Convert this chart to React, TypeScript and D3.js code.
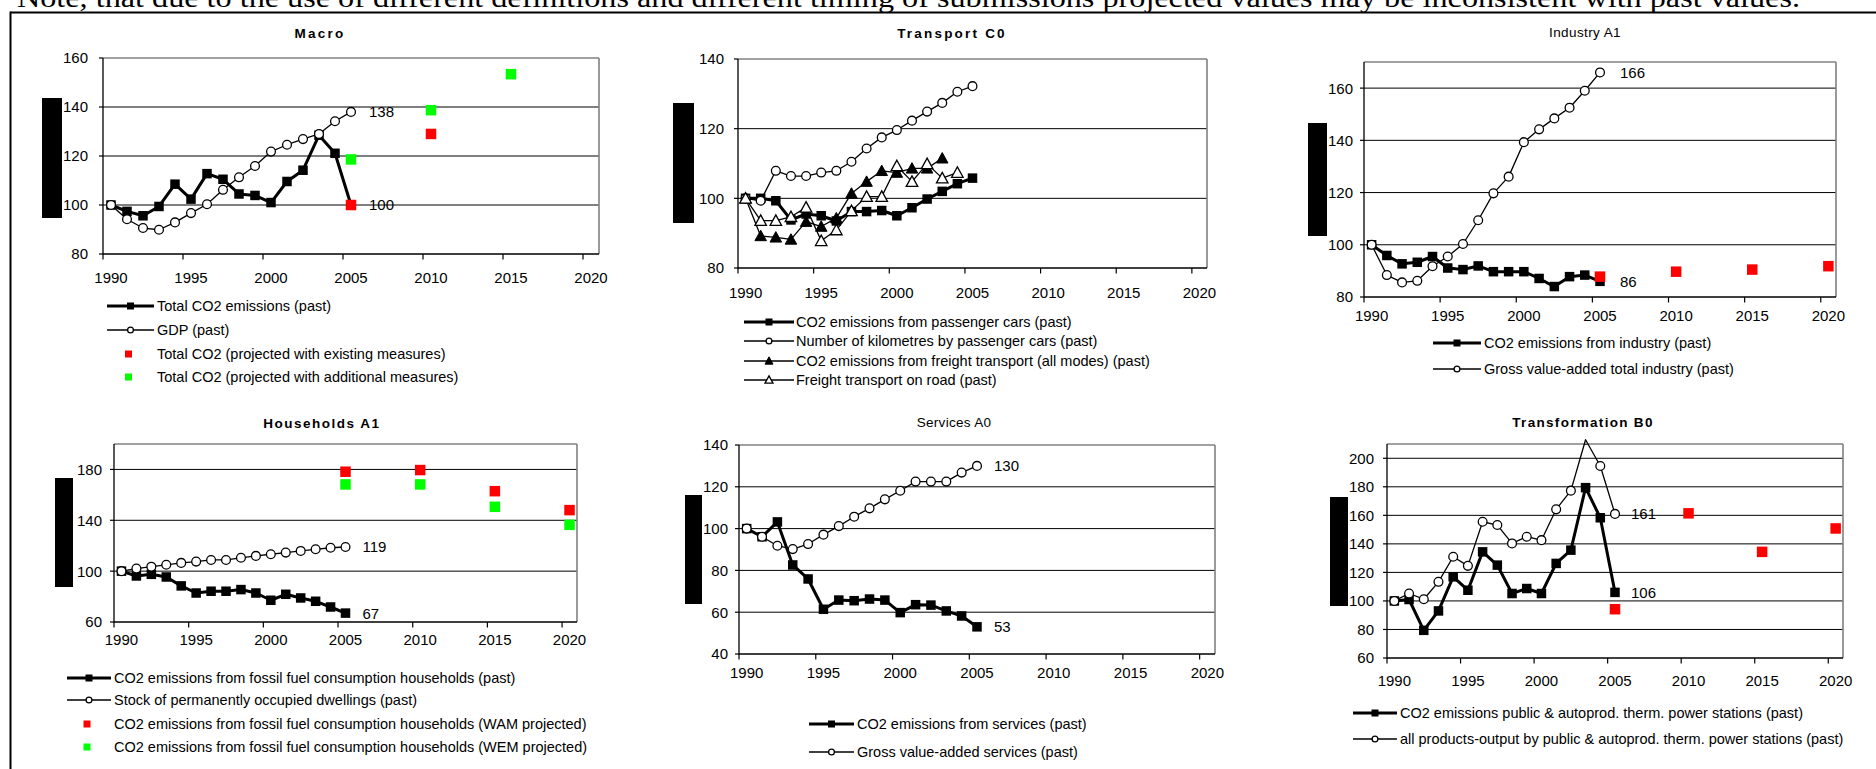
import React from 'react';
import * as d3 from 'd3';

// ---------- DATA ----------
const pastYears = [1990, 1991, 1992, 1993, 1994, 1995, 1996, 1997, 1998, 1999, 2000, 2001, 2002, 2003, 2004, 2005];
const projYears = [2005, 2010, 2015, 2020];
const xTickYears = [1990, 1995, 2000, 2005, 2010, 2015, 2020];

// Macro
const macroCO2 = [100, 97.4, 95.6, 99.4, 108.5, 102.4, 112.8, 110.5, 104.5, 103.9, 101, 109.6, 114.2, 128.5, 121.1, 100];
const macroGDP = [100, 94.2, 90.6, 89.9, 92.9, 96.7, 100.3, 106.2, 111.3, 115.9, 121.8, 124.6, 126.9, 129, 134.2, 138];
const macroExistingYears = [2005, 2010];
const macroExisting = [100, 129];
const macroAdditionalYears = [2005, 2010, 2015];
const macroAdditional = [118.6, 138.7, 153.4];

// Transport
const transportCars = [100, 100, 99.3, 93.8, 95.5, 95, 93.5, 96.2, 96.2, 96.5, 95, 97.3, 99.8, 102, 104.2, 105.8];
const transportKm = [100, 99.3, 107.9, 106.4, 106.4, 107.4, 107.9, 110.5, 114.3, 117.5, 119.6, 122.3, 124.9, 127.4, 130.6, 132.2];
const freightYears = [1990, 1991, 1992, 1993, 1994, 1995, 1996, 1997, 1998, 1999, 2000, 2001, 2002, 2003];
const freightCO2 = [100, 89.2, 88.8, 88.2, 93.3, 91.9, 94.3, 101.4, 104.8, 107.9, 107.4, 108.6, 108.6, 111.5];
const roadYears = [1990, 1991, 1992, 1993, 1994, 1995, 1996, 1997, 1998, 1999, 2000, 2001, 2002, 2003, 2004];
const roadFreight = [100, 93.6, 93.6, 94.7, 97.4, 87.8, 90.9, 96.4, 100.5, 100.5, 109.3, 104.8, 109.9, 105.8, 107.4];

// Industry
const industryCO2 = [100, 95.9, 92.7, 93.3, 95.5, 91.1, 90.5, 91.9, 89.7, 89.7, 89.7, 87.1, 84, 87.8, 88.4, 86];
const industryGVA = [100, 88.4, 85.6, 86.2, 91.8, 95.5, 100.3, 109.4, 119.7, 126.1, 139.3, 144.2, 148.4, 152.5, 159, 166];
const industryProj = [87.8, 89.7, 90.5, 91.8];

// Households
const householdsCO2 = [100, 96.2, 97.5, 95.4, 88.4, 82.8, 84.2, 84.2, 85.5, 82.8, 77.1, 81.8, 78.9, 76.3, 71.8, 67];
const householdsDwellings = [100, 102, 103.5, 105, 106.5, 107.5, 108.8, 108.8, 110.5, 112, 113.3, 114.6, 115.9, 117.2, 118.4, 119];
const householdsWAM = [178.2, 179.5, 162.9, 148];
const householdsWEM = [168.2, 168.2, 150.6, 136.4];

// Services
const servicesCO2 = [100, 96.1, 103.2, 82.6, 75.9, 61.4, 65.8, 65.5, 66.3, 65.8, 59.8, 63.6, 63.4, 60.6, 58.2, 53];
const servicesGVA = [100, 96.1, 91.8, 90.2, 92.6, 97.1, 101.2, 105.7, 109.7, 114, 118.1, 122.5, 122.5, 122.5, 126.8, 130];

// Transformation
const transfCO2 = [100, 101, 79.4, 93, 116.9, 107.5, 134.4, 125.1, 105.2, 108.7, 105.2, 126.3, 135.6, 179.4, 158.3, 106];
const transfOutput = [100, 105.2, 101.2, 113.4, 131, 124.6, 155.5, 153.2, 140.3, 145, 142.6, 164.2, 177.3, 213, 194.6, 161];
const transfProj = [94.2, 161.4, 134.4, 150.8];

const noteText = 'Note, that due to the use of different definitions and different timing of submissions projected values may be inconsistent with past values.';

// ---------- STYLE / LAYOUT ----------
const FONT = "'Liberation Sans', Arial, Helvetica, sans-serif";
const RED = '#FF0000';
const GREEN = '#00FF00';

type Kind = 'sq' | 'circ' | 'triF' | 'triO' | 'red' | 'green';
type Series = { name: string; years: number[]; values: number[]; kind: Kind; legend: boolean; endLabel?: boolean };
type Panel = {
  title: string; bold: boolean; titleX: number; titleY: number; ls: number;
  x0: number; x1: number; y0: number; y1: number;
  yDomain: [number, number]; yTicks: number[];
  ylabGap: number; xlabOff: number;
  bar: [number, number, number, number];
  legend: { x1: number; x2: number; tx: number; ys: number[] };
  labelDx: number;
  series: Series[];
};

const panels: Panel[] = [
  {
    title: 'Macro', bold: true, titleX: 320, titleY: 38, ls: 2.2,
    x0: 103, x1: 599, y0: 58, y1: 254, yDomain: [80, 160], yTicks: [80, 100, 120, 140, 160],
    ylabGap: 15, xlabOff: 29, bar: [42, 98, 20, 120],
    legend: { x1: 107, x2: 154, tx: 157, ys: [306, 330, 354, 377] }, labelDx: 18,
    series: [
      { name: 'Total CO2 emissions (past)', years: pastYears, values: macroCO2, kind: 'sq', legend: true, endLabel: true },
      { name: 'GDP (past)', years: pastYears, values: macroGDP, kind: 'circ', legend: true, endLabel: true },
      { name: 'Total CO2 (projected with existing measures)', years: macroExistingYears, values: macroExisting, kind: 'red', legend: true },
      { name: 'Total CO2 (projected with additional measures)', years: macroAdditionalYears, values: macroAdditional, kind: 'green', legend: true },
    ],
  },
  {
    title: 'Transport C0', bold: true, titleX: 952, titleY: 38, ls: 2.2,
    x0: 738, x1: 1207, y0: 59, y1: 268, yDomain: [80, 140], yTicks: [80, 100, 120, 140],
    ylabGap: 14, xlabOff: 30, bar: [673, 103, 21, 120],
    legend: { x1: 744, x2: 794, tx: 796, ys: [322, 341, 361, 380] }, labelDx: 18,
    series: [
      { name: 'CO2 emissions from passenger cars (past)', years: pastYears, values: transportCars, kind: 'sq', legend: true },
      { name: 'Number of kilometres by passenger cars (past)', years: pastYears, values: transportKm, kind: 'circ', legend: true },
      { name: 'CO2 emissions from freight transport (all modes) (past)', years: freightYears, values: freightCO2, kind: 'triF', legend: true },
      { name: 'Freight transport on road (past)', years: roadYears, values: roadFreight, kind: 'triO', legend: true },
    ],
  },
  {
    title: 'Industry A1', bold: false, titleX: 1585, titleY: 37, ls: 0.4,
    x0: 1364, x1: 1836, y0: 62, y1: 297, yDomain: [80, 170], yTicks: [80, 100, 120, 140, 160],
    ylabGap: 11, xlabOff: 24, bar: [1308, 123, 19, 113],
    legend: { x1: 1433, x2: 1481, tx: 1484, ys: [343, 369] }, labelDx: 20,
    series: [
      { name: 'CO2 emissions from industry (past)', years: pastYears, values: industryCO2, kind: 'sq', legend: true, endLabel: true },
      { name: 'Gross value-added total industry (past)', years: pastYears, values: industryGVA, kind: 'circ', legend: true, endLabel: true },
      { name: 'Industry projected', years: projYears, values: industryProj, kind: 'red', legend: false },
    ],
  },
  {
    title: 'Households A1', bold: true, titleX: 322, titleY: 428, ls: 1.5,
    x0: 114, x1: 577, y0: 444, y1: 622, yDomain: [60, 200], yTicks: [60, 100, 140, 180],
    ylabGap: 12, xlabOff: 23, bar: [55, 478, 18, 109],
    legend: { x1: 67, x2: 111, tx: 114, ys: [678, 700, 724, 747] }, labelDx: 17,
    series: [
      { name: 'CO2 emissions from fossil fuel consumption households (past)', years: pastYears, values: householdsCO2, kind: 'sq', legend: true, endLabel: true },
      { name: 'Stock of permanently occupied dwellings (past)', years: pastYears, values: householdsDwellings, kind: 'circ', legend: true, endLabel: true },
      { name: 'CO2 emissions from fossil fuel consumption households (WAM projected)', years: projYears, values: householdsWAM, kind: 'red', legend: true },
      { name: 'CO2 emissions from fossil fuel consumption households (WEM projected)', years: projYears, values: householdsWEM, kind: 'green', legend: true },
    ],
  },
  {
    title: 'Services A0', bold: false, titleX: 954, titleY: 427, ls: 0.3,
    x0: 739, x1: 1215, y0: 445, y1: 654, yDomain: [40, 140], yTicks: [40, 60, 80, 100, 120, 140],
    ylabGap: 11, xlabOff: 24, bar: [685, 495, 17, 109],
    legend: { x1: 809, x2: 854, tx: 857, ys: [724, 752] }, labelDx: 17,
    series: [
      { name: 'CO2 emissions from services (past)', years: pastYears, values: servicesCO2, kind: 'sq', legend: true, endLabel: true },
      { name: 'Gross value-added services (past)', years: pastYears, values: servicesGVA, kind: 'circ', legend: true, endLabel: true },
    ],
  },
  {
    title: 'Transformation B0', bold: true, titleX: 1583, titleY: 427, ls: 1.3,
    x0: 1387, x1: 1843, y0: 444, y1: 658, yDomain: [60, 210], yTicks: [60, 80, 100, 120, 140, 160, 180, 200],
    ylabGap: 13, xlabOff: 28, bar: [1330, 497, 18, 109],
    legend: { x1: 1353, x2: 1397, tx: 1400, ys: [713, 739] }, labelDx: 16,
    series: [
      { name: 'CO2 emissions public & autoprod. therm. power stations (past)', years: pastYears, values: transfCO2, kind: 'sq', legend: true, endLabel: true },
      { name: 'all products-output by public & autoprod. therm. power stations (past)', years: pastYears, values: transfOutput, kind: 'circ', legend: true, endLabel: true },
      { name: 'Transformation projected', years: projYears, values: transfProj, kind: 'red', legend: false },
    ],
  },
];

// ---------- MARKERS ----------
function Marker({ kind, cx, cy, s }: { kind: Kind; cx: number; cy: number; s: number }) {
  if (kind === 'sq') return <rect x={cx - s / 2} y={cy - s / 2} width={s} height={s} fill="#000" />;
  if (kind === 'red' || kind === 'green')
    return <rect x={cx - s / 2} y={cy - s / 2} width={s} height={s} fill={kind === 'red' ? RED : GREEN} />;
  if (kind === 'circ') return <circle cx={cx} cy={cy} r={s / 2 - 0.6} fill="#fff" stroke="#000" strokeWidth={1.3} />;
  const h = s * 0.9;
  const path = `M${cx},${cy - h / 2 - 1}L${cx + s / 2 + 0.5},${cy + h / 2}L${cx - s / 2 - 0.5},${cy + h / 2}Z`;
  if (kind === 'triF') return <path d={path} fill="#000" stroke="#000" strokeWidth={1} />;
  return <path d={path} fill="#fff" stroke="#000" strokeWidth={1.3} strokeLinejoin="miter" />;
}

function ChartPanel({ p, idx }: { p: Panel; idx: number }) {
  const x = d3.scaleLinear().domain([1990, 2021]).range([p.x0, p.x1]);
  const y = d3.scaleLinear().domain(p.yDomain).range([p.y1, p.y0]);
  const px = (yr: number) => x(yr + 0.5);
  const clipId = `clip-${idx}`;
  const topVal = p.yDomain[1];

  const lineGen = (s: Series) =>
    d3.line<number>().x((_, i) => px(s.years[i])).y((d) => y(d))(s.values) || '';

  return (
    <g>
      <defs>
        <clipPath id={clipId}>
          <rect x={p.x0} y={p.y0} width={p.x1 - p.x0} height={p.y1 - p.y0} />
        </clipPath>
      </defs>
      {/* redacted axis title */}
      <rect x={p.bar[0]} y={p.bar[1]} width={p.bar[2]} height={p.bar[3]} fill="#000" />
      {/* title */}
      <text x={p.titleX} y={p.titleY} textAnchor="middle" fontFamily={FONT} fontSize={13.5}
        fontWeight={p.bold ? 'bold' : 'normal'} letterSpacing={p.ls} fill="#000">{p.title}</text>
      {/* gridlines */}
      {p.yTicks.filter((t) => t > p.yDomain[0] && t < topVal).map((t) => (
        <line key={`g${t}`} x1={p.x0} x2={p.x1} y1={y(t)} y2={y(t)} stroke="#000" strokeWidth={1} />
      ))}
      {/* top & right border */}
      <line x1={p.x0} x2={p.x1} y1={p.y0} y2={p.y0} stroke="#808080" strokeWidth={1.6} />
      <line x1={p.x1} x2={p.x1} y1={p.y0} y2={p.y1} stroke="#808080" strokeWidth={1.6} />
      {/* axes */}
      <line x1={p.x0} x2={p.x0} y1={p.y0} y2={p.y1 + 0.6} stroke="#000" strokeWidth={1.3} />
      <line x1={p.x0} x2={p.x1} y1={p.y1} y2={p.y1} stroke="#000" strokeWidth={1.3} />
      {p.yTicks.map((t) => (
        <g key={`yt${t}`}>
          <line x1={p.x0 - 4} x2={p.x0} y1={y(t)} y2={y(t)} stroke="#000" strokeWidth={1.2} />
          <text x={p.x0 - p.ylabGap} y={y(t)} dy="0.36em" textAnchor="end" fontFamily={FONT} fontSize={15} fill="#000">{t}</text>
        </g>
      ))}
      {xTickYears.map((yr) => (
        <g key={`xt${yr}`}>
          <line x1={x(yr)} x2={x(yr)} y1={p.y1} y2={p.y1 + 5.5} stroke="#000" strokeWidth={1.2} />
          <text x={px(yr)} y={p.y1 + p.xlabOff} textAnchor="middle" fontFamily={FONT} fontSize={15} fill="#000">{yr}</text>
        </g>
      ))}
      {/* series */}
      {p.series.map((s, si) => {
        const isLine = s.kind !== 'red' && s.kind !== 'green';
        const sz = s.kind === 'red' || s.kind === 'green' ? 10.5 : s.kind === 'circ' ? 10 : s.kind === 'sq' ? 9.5 : 10.5;
        return (
          <g key={`s${si}`}>
            {isLine && (
              <path d={lineGen(s)} fill="none" stroke="#000" strokeWidth={s.kind === 'sq' ? 3 : 1.3} strokeLinejoin="round" />
            )}
            <g clipPath={`url(#${clipId})`}>
              {s.values.map((v, i) => (
                <Marker key={i} kind={s.kind} cx={px(s.years[i])} cy={y(v)} s={sz} />
              ))}
            </g>
          </g>
        );
      })}
      {/* end labels */}
      {p.series.filter((s) => s.endLabel).map((s, si) => {
        const last = s.values.length - 1;
        return (
          <text key={`el${si}`} x={px(s.years[last]) + p.labelDx} y={y(s.values[last])} dy="0.36em"
            fontFamily={FONT} fontSize={15} fill="#000">{Math.round(s.values[last])}</text>
        );
      })}
      {/* legend */}
      {p.series.filter((s) => s.legend).map((s, li) => {
        const ly = p.legend.ys[li];
        const cx = (p.legend.x1 + p.legend.x2) / 2;
        const isLine = s.kind !== 'red' && s.kind !== 'green';
        return (
          <g key={`lg${li}`}>
            {isLine && (
              <line x1={p.legend.x1} x2={p.legend.x2} y1={ly} y2={ly} stroke="#000" strokeWidth={s.kind === 'sq' ? 3 : 1.3} />
            )}
            <Marker kind={s.kind} cx={isLine ? cx : cx - 2} cy={ly} s={s.kind === 'circ' ? 7 : 7} />
            <text x={p.legend.tx} y={ly} dy="0.36em" fontFamily={FONT} fontSize={14.5} fill="#000">{s.name}</text>
          </g>
        );
      })}
    </g>
  );
}

export default function App() {
  return (
    <svg width={1876} height={769} viewBox="0 0 1876 769"
      style={{ position: 'absolute', left: 0, top: 0, background: '#fff', display: 'block' }}>
      <rect x={0} y={0} width={1876} height={769} fill="#fff" />
      <text x={17} y={7} fontFamily="'Liberation Serif', 'Times New Roman', serif" fontSize={28}
        textLength={1783} lengthAdjust="spacingAndGlyphs" fill="#000">{noteText}</text>
      <line x1={10.5} x2={1876} y1={12.5} y2={12.5} stroke="#000" strokeWidth={2} />
      <line x1={10.5} x2={10.5} y1={11.5} y2={769} stroke="#000" strokeWidth={2} />
      {panels.map((p, i) => (
        <ChartPanel key={i} p={p} idx={i} />
      ))}
    </svg>
  );
}
